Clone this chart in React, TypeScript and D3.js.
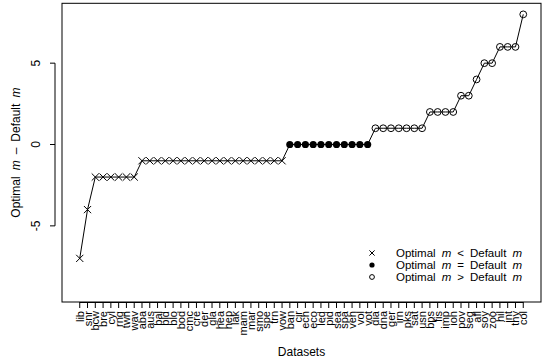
import * as d3 from 'd3'
import { useEffect, useRef } from 'react'

const datasets = [
  'lib', 'snr', 'bcw', 'bre', 'cyl', 'rng', 'twn', 'wav', 'aba', 'aus',
  'bal', 'bld', 'blo', 'bod', 'cmc', 'cre', 'der', 'gla', 'hea', 'hep',
  'lak', 'mam', 'mar', 'smo', 'spe', 'trn', 'vow', 'ban', 'cir', 'ech',
  'eco', 'led', 'pid', 'sea', 'spa', 'veh', 'vol', 'vot', 'dia', 'dna',
  'ger', 'irn', 'pks', 'sat', 'usn', 'bps', 'fis', 'imp', 'ion', 'pov',
  'seg', 'afl', 'soy', 'zoo', 'hil', 'int', 'thy', 'col',
]

const diffs = [
  -7, -4, -2, -2, -2, -2, -2, -2, -1, -1,
  -1, -1, -1, -1, -1, -1, -1, -1, -1, -1,
  -1, -1, -1, -1, -1, -1, -1, 0, 0, 0,
  0, 0, 0, 0, 0, 0, 0, 0, 1, 1,
  1, 1, 1, 1, 1, 2, 2, 2, 2, 3,
  3, 4, 5, 5, 6, 6, 6, 8,
]

const yTicks = [-5, 0, 5]
const legendItems = [
  { kind: 'cross', op: '<' },
  { kind: 'filled', op: '=' },
  { kind: 'open', op: '>' },
]

const width = 550
const height = 361
const font = 'Liberation Sans, Arial, Helvetica, sans-serif'

// plotmath-like text: words with explicit gaps, "m" in italics
function mathLabel(sel, parts, gap) {
  parts.forEach((p, i) => {
    const ts = sel.append('tspan').text(p)
    if (i > 0) ts.attr('dx', gap)
    if (p === 'm') ts.attr('font-style', 'italic')
  })
}

function DiffChart() {
  const svgRef = useRef(null)

  useEffect(() => {
    const svg = d3.select(svgRef.current)
    svg.selectAll('*').remove()

    const left = 62, right = 541, top = 3.3, bottom = 302
    const n = datasets.length
    // R style 4% axis extension
    const xPad = (n - 1) * 0.04
    const x = d3.scaleLinear().domain([1 - xPad, n + xPad]).range([left, right])
    const yPad = 17 * 0.04
    const y = d3.scaleLinear().domain([-9 - yPad, 8 + yPad]).range([bottom, top])

    svg.append('rect')
      .attr('x', left).attr('y', top)
      .attr('width', right - left).attr('height', bottom - top)
      .attr('fill', 'none').attr('stroke', '#000').attr('stroke-width', 1)

    // y axis
    const ya = svg.append('g')
    ya.append('line')
      .attr('x1', left - 7).attr('x2', left - 7)
      .attr('y1', y(yTicks[0])).attr('y2', y(yTicks[yTicks.length - 1]))
      .attr('stroke', '#000')
    yTicks.forEach(t => {
      ya.append('line')
        .attr('x1', left - 7).attr('x2', left - 12)
        .attr('y1', y(t)).attr('y2', y(t))
        .attr('stroke', '#000')
      ya.append('text')
        .attr('transform', `translate(40,${y(t)}) rotate(-90)`)
        .attr('text-anchor', 'middle')
        .attr('font-size', 12)
        .text(t < 0 ? '-' + Math.abs(t) : String(t))
    })

    // x axis
    const xa = svg.append('g')
    xa.append('line')
      .attr('x1', x(1)).attr('x2', x(n))
      .attr('y1', bottom + 0.5).attr('y2', bottom + 0.5)
      .attr('stroke', '#000')
    datasets.forEach((d, i) => {
      const px = x(i + 1)
      xa.append('line')
        .attr('x1', px).attr('x2', px)
        .attr('y1', bottom).attr('y2', bottom + 6)
        .attr('stroke', '#000')
      xa.append('text')
        .attr('transform', `translate(${px + 4},${bottom + 9}) rotate(-90)`)
        .attr('text-anchor', 'end')
        .attr('font-size', 11)
        .text(d)
    })

    svg.append('text')
      .attr('x', (left + right) / 2).attr('y', 356)
      .attr('text-anchor', 'middle').attr('font-size', 12)
      .text('Datasets')

    const yt = svg.append('text')
      .attr('transform', `translate(19.5,${(top + bottom) / 2}) rotate(-90)`)
      .attr('text-anchor', 'middle').attr('font-size', 12)
    mathLabel(yt, ['Optimal', 'm', '\u2013', 'Default', 'm'], 6)

    // line
    const line = d3.line<number>().x((_, i) => x(i + 1)).y(v => y(v))
    svg.append('path')
      .attr('d', line(diffs))
      .attr('fill', 'none').attr('stroke', '#000').attr('stroke-width', 1)

    const drawMark = (g, kind, cx, cy, s) => {
      if (kind === 'cross') {
        g.append('path')
          .attr('d', `M${cx - s},${cy - s}L${cx + s},${cy + s}M${cx - s},${cy + s}L${cx + s},${cy - s}`)
          .attr('stroke', '#000').attr('stroke-width', 1).attr('fill', 'none')
      } else if (kind === 'filled') {
        g.append('circle').attr('cx', cx).attr('cy', cy).attr('r', s).attr('fill', '#000')
      } else {
        g.append('circle').attr('cx', cx).attr('cy', cy).attr('r', s - 0.2)
          .attr('fill', 'none').attr('stroke', '#000').attr('stroke-width', 1)
      }
    }

    const marks = svg.append('g')
    diffs.forEach((v, i) => {
      const kind = v < 0 ? 'cross' : v === 0 ? 'filled' : 'open'
      drawMark(marks, kind, x(i + 1), y(v), 3.6)
    })

    // legend
    const lg = svg.append('g')
    legendItems.forEach((it, i) => {
      const cy = 253 + i * 12
      drawMark(lg, it.kind, 372, cy, 2.6)
      const t = lg.append('text')
        .attr('x', 396).attr('y', cy + 4).attr('font-size', 11.5)
      mathLabel(t, ['Optimal', 'm', it.op, 'Default', 'm'], 6)
    })
  }, [])

  return (
    <svg
      ref={svgRef}
      width={width}
      height={height}
      style={{ position: 'absolute', left: 0, top: 0, fontFamily: font, background: '#fff' }}
    />
  )
}

export default function App() {
  return <DiffChart />
}
